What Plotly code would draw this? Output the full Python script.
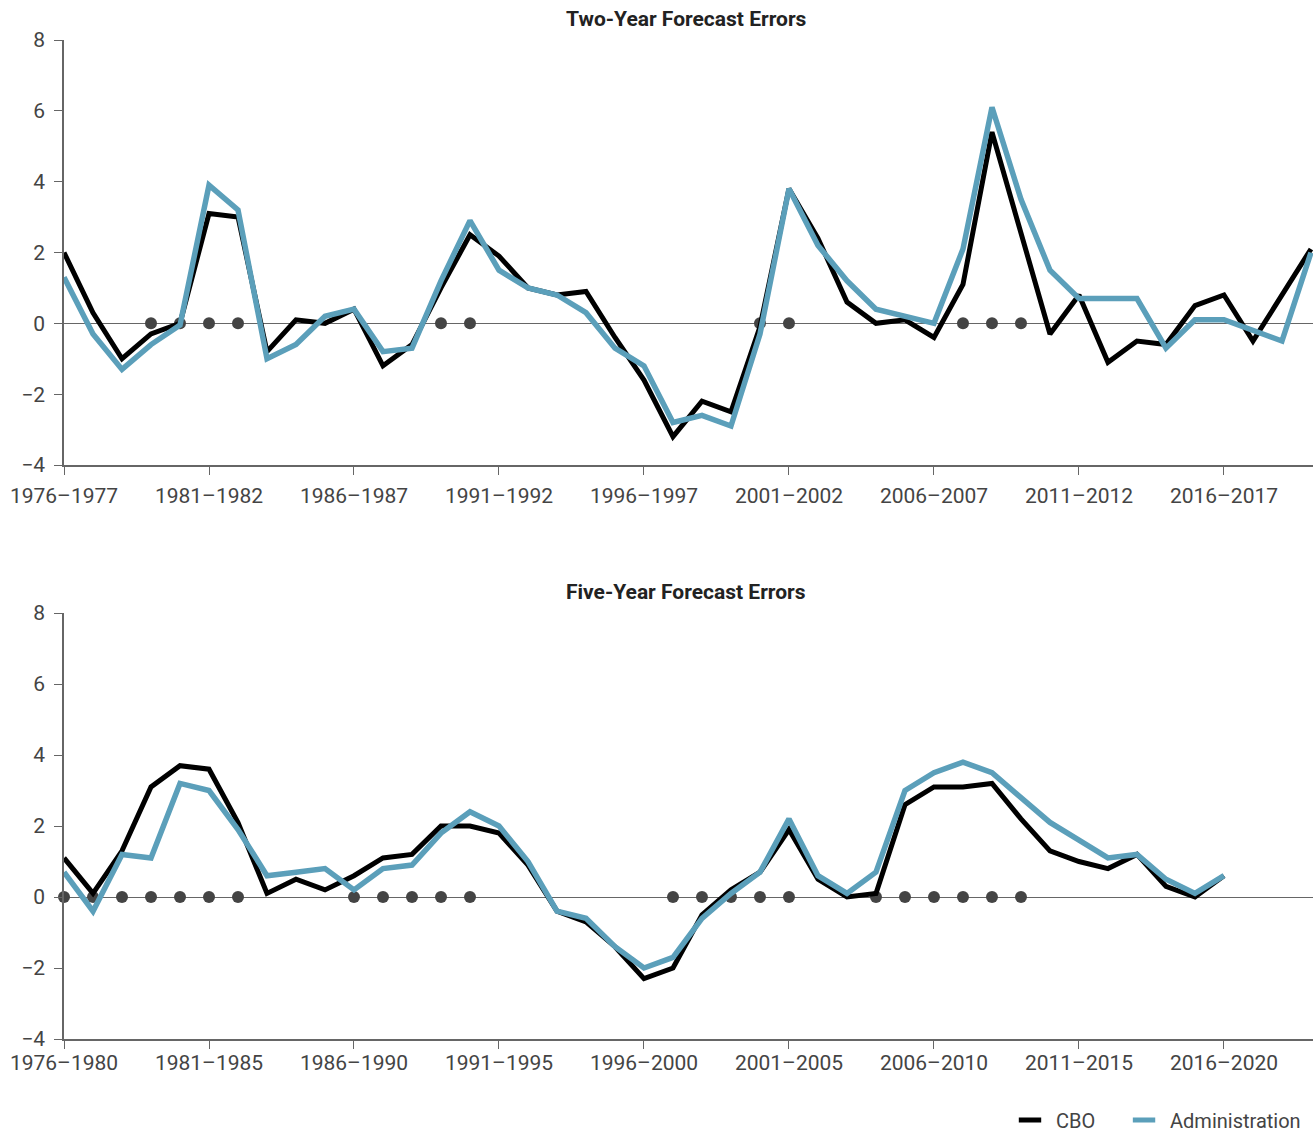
import plotly.graph_objects as go

# ---------------- data ----------------
years_two = list(range(1976, 2020))
cbo_two = [2.0, 0.3, -1.0, -0.3, 0.0, 3.1, 3.0, -0.8, 0.1, 0.0, 0.4, -1.2, -0.6, 1.0,
           2.5, 1.9, 1.0, 0.8, 0.9, -0.4, -1.6, -3.2, -2.2, -2.5, -0.1, 3.8, 2.4, 0.6,
           0.0, 0.1, -0.4, 1.1, 5.4, 2.6, -0.3, 0.8, -1.1, -0.5, -0.6, 0.5, 0.8, -0.5,
           0.8, 2.1]
adm_two = [1.3, -0.3, -1.3, -0.6, -0.05, 3.9, 3.2, -1.0, -0.6, 0.2, 0.4, -0.8, -0.7, 1.2,
           2.9, 1.5, 1.0, 0.8, 0.3, -0.7, -1.2, -2.8, -2.6, -2.9, -0.3, 3.8, 2.2, 1.2,
           0.4, 0.2, 0.0, 2.1, 6.1, 3.5, 1.5, 0.7, 0.7, 0.7, -0.7, 0.1, 0.1,
           -0.2, -0.5, 2.0]
recession_two = [1979, 1980, 1981, 1982, 1989, 1990, 2000, 2001, 2007, 2008, 2009]
tickvals_two = [1976, 1981, 1986, 1991, 1996, 2001, 2006, 2011, 2016]
ticktext_two = ["1976–1977", "1981–1982", "1986–1987", "1991–1992", "1996–1997",
                "2001–2002", "2006–2007", "2011–2012", "2016–2017"]

years_five = list(range(1976, 2017))
cbo_five = [1.1, 0.1, 1.3, 3.1, 3.7, 3.6, 2.1, 0.1, 0.5, 0.2, 0.6, 1.1, 1.2, 2.0,
            2.0, 1.8, 0.9, -0.4, -0.7, -1.4, -2.3, -2.0, -0.5, 0.2, 0.7, 1.9, 0.5,
            0.0, 0.1, 2.6, 3.1, 3.1, 3.2, 2.2, 1.3, 1.0, 0.8, 1.2, 0.3, 0.0, 0.6]
adm_five = [0.7, -0.4, 1.2, 1.1, 3.2, 3.0, 1.9, 0.6, 0.7, 0.8, 0.2, 0.8, 0.9, 1.8,
            2.4, 2.0, 1.0, -0.4, -0.6, -1.4, -2.0, -1.7, -0.6, 0.1, 0.7, 2.2, 0.6,
            0.1, 0.7, 3.0, 3.5, 3.8, 3.5, 2.8, 2.1, 1.6, 1.1, 1.2, 0.5, 0.1, 0.6]
recession_five = [1976, 1977, 1978, 1979, 1980, 1981, 1982, 1986, 1987, 1988, 1989, 1990,
                  1997, 1998, 1999, 2000, 2001, 2004, 2005, 2006, 2007, 2008, 2009]
tickvals_five = [1976, 1981, 1986, 1991, 1996, 2001, 2006, 2011, 2016]
ticktext_five = ["1976–1980", "1981–1985", "1986–1990", "1991–1995", "1996–2000",
                 "2001–2005", "2006–2010", "2011–2015", "2016–2020"]

y_ticks = [-4, -2, 0, 2, 4, 6, 8]
titles = ["Two-Year Forecast Errors", "Five-Year Forecast Errors"]

# ---------------- style ----------------
BLACK = "#000000"
BLUE = "#5B9FBA"
DOT = "#444444"
AXIS = "#666666"
TEXT = "#444444"
FONT = "Roboto"

fig = go.Figure()

panels = [
    (years_two, cbo_two, adm_two, recession_two, "x", "y"),
    (years_five, cbo_five, adm_five, recession_five, "x2", "y2"),
]
for yrs, cbo, adm, rec, xa, ya in panels:
    fig.add_trace(go.Scatter(x=rec, y=[0] * len(rec), mode="markers",
                             marker=dict(color=DOT, size=12), xaxis=xa, yaxis=ya,
                             showlegend=False, hoverinfo="skip", cliponaxis=False))
    fig.add_trace(go.Scatter(x=yrs, y=cbo, mode="lines", line=dict(color=BLACK, width=5),
                             xaxis=xa, yaxis=ya, showlegend=False, name="CBO"))
    fig.add_trace(go.Scatter(x=yrs, y=adm, mode="lines", line=dict(color=BLUE, width=5.5),
                             xaxis=xa, yaxis=ya, showlegend=False, name="Administration"))

# legend entries (one legend box per series for exact spacing)
for name, col, lg in [("CBO", BLACK, "legend"), ("Administration", BLUE, "legend2")]:
    fig.add_trace(go.Scatter(x=[None], y=[None], mode="markers", name=name, legend=lg,
                             marker=dict(symbol="line-ew", size=16,
                                         line=dict(color=col, width=5)),
                             xaxis="x2", yaxis="y2"))

xrange_ = [1976, 2019.07]
common_x = dict(range=xrange_, showgrid=False, zeroline=False, showline=True,
                linecolor=AXIS, linewidth=1.5, ticks="outside", ticklen=8,
                tickcolor=AXIS, tickwidth=1.2, automargin=False,
                tickfont=dict(family=FONT, size=21, color=TEXT))
common_y = dict(range=[-4, 8], tickvals=y_ticks, showgrid=False, zeroline=True,
                zerolinecolor=AXIS, zerolinewidth=1.2, showline=True, linecolor=AXIS,
                linewidth=1.5, ticks="outside", ticklen=8, tickcolor=AXIS, tickwidth=1.2,
                automargin=False, ticklabelstandoff=5,
                tickfont=dict(family=FONT, size=21, color=TEXT))

H_PLOT = 1039 - 40
top_dom = [(1039 - 465) / H_PLOT, 1.0]
bot_dom = [0.0, (1039 - 613) / H_PLOT]

legend_common = dict(orientation="h", y=-0.081, yanchor="middle", xanchor="left",
                     font=dict(family=FONT, size=20, color=TEXT), itemwidth=42,
                     bgcolor="rgba(0,0,0,0)")

fig.update_layout(
    width=1315, height=1133,
    margin=dict(l=64, r=2, t=40, b=94, autoexpand=False),
    paper_bgcolor="white", plot_bgcolor="white",
    font=dict(family=FONT, color=TEXT),
    xaxis=dict(common_x, domain=[0, 1], anchor="y", ticklabelstandoff=3,
               tickvals=tickvals_two, ticktext=ticktext_two),
    yaxis=dict(common_y, domain=top_dom, anchor="x"),
    xaxis2=dict(common_x, domain=[0, 1], anchor="y2", ticklabelstandoff=-4,
                tickvals=tickvals_five, ticktext=ticktext_five),
    yaxis2=dict(common_y, domain=bot_dom, anchor="x2"),
    legend=dict(legend_common, x=0.7526),
    legend2=dict(legend_common, x=0.8439),
    showlegend=True,
)

for title, dom in zip(titles, [top_dom, bot_dom]):
    fig.add_annotation(text="<b>" + title + "</b>", xref="paper", yref="paper",
                       x=0.498, y=dom[1] + 21 / H_PLOT, xanchor="center", yanchor="middle",
                       showarrow=False, font=dict(family=FONT, size=21, color="#222222"))

# remove the browser's default page margin/scrollbars so the figure sits at (0, 0)
fig.write_html("out.html",
               config={"displayModeBar": False},
               post_script="document.body.style.margin='0';"
                           "document.documentElement.style.overflow='hidden';"
                           "document.body.style.overflow='hidden';")
